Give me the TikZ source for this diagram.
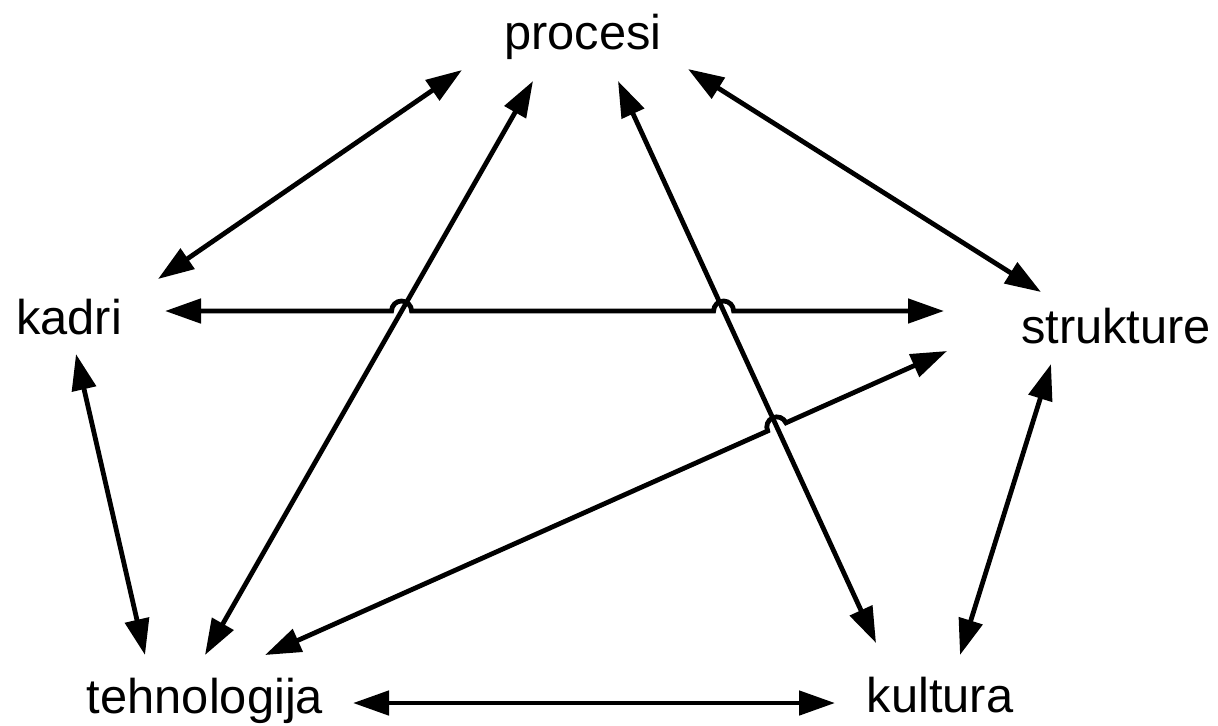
\documentclass[tikz,border=0pt]{standalone}
\usepackage{fontspec}
\setmainfont{Liberation Sans}
\usetikzlibrary{arrows.meta, calc, intersections}

\tikzset{
  lbl/.style = {anchor=base, inner sep=0pt, font=\fontsize{24.4pt}{29pt}\selectfont},
  link/.style = {line width=2.4pt, {Triangle[length=18pt,width=12pt]}-{Triangle[length=18pt,width=12pt]}}
}

\begin{document}
\begin{tikzpicture}[x=0.5pt, y=0.5pt]
\useasboundingbox (0,0) rectangle (1218,-725);
\node[lbl] (procesi) at (583,-49) {procesi};
\node[lbl] (kadri) at (69,-334) {kadri};
\node[lbl] (strukture) at (1116,-343) {strukture};
\node[lbl] (tehnologija) at (205,-713) {tehnologija};
\node[lbl] (kultura) at (940,-712) {kultura};
\draw[link] ([shift={(-121,-21)}]procesi.base) -- ([shift={(89,55)}]kadri.base);
\draw[link] ([shift={(105,-20)}]procesi.base) -- ([shift={(-75,51)}]strukture.base);
\draw[link, name path=pt] ([shift={(-50,-32)}]procesi.base) -- ([shift={(0,58)}]tehnologija.base);
\draw[link, name path=pk] ([shift={(35,-32)}]procesi.base) -- ([shift={(-64,69)}]kultura.base);
\draw[link] ([shift={(7,-20)}]kadri.base) -- ([shift={(-60,58)}]tehnologija.base);
\draw[link] ([shift={(-65,-21)}]strukture.base) -- ([shift={(20,57)}]kultura.base);
\draw[link] ([shift={(148,10)}]tehnologija.base) -- ([shift={(-105,9)}]kultura.base);
% lines that hop over the crossings
\coordinate (ks1) at ([shift={(96,23)}]kadri.base);
\coordinate (ks2) at ([shift={(-172,32)}]strukture.base);
\coordinate (ts1) at ([shift={(60,58)}]tehnologija.base);
\coordinate (ts2) at ([shift={(-169,-8)}]strukture.base);
\path[name path=ks] (ks1) -- (ks2);
\path[name path=ts] (ts1) -- (ts2);
\path[name intersections={of=ks and pt, by=h1}];
\path[name intersections={of=ks and pk, by=h2}];
\path[name intersections={of=ts and pk, by=h3}];
\draw[link] (ks1) -- ($(h1)!5pt!(ks1)$) arc[start angle=180, end angle=0, radius=5pt]
  -- ($(h2)!5pt!(ks1)$) arc[start angle=180, end angle=0, radius=5pt] -- (ks2);
\draw[link] (ts1) -- ($(h3)!5pt!(ts1)$) arc[start angle=204, end angle=24, radius=5pt] -- (ts2);
\end{tikzpicture}
\end{document}
